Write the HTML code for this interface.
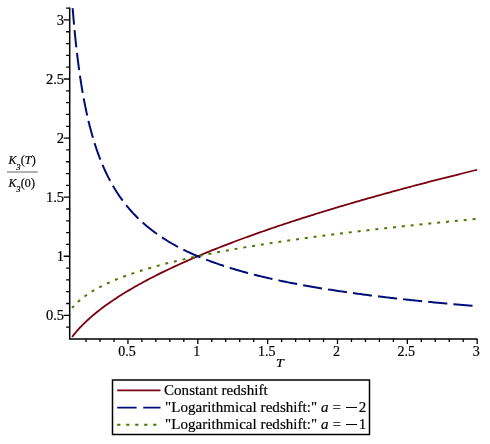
<!DOCTYPE html>
<html><head><meta charset="utf-8"><title>plot</title>
<style>
html,body{margin:0;padding:0;background:#fff;}
body{width:490px;height:444px;position:relative;overflow:hidden;font-family:"Liberation Serif",serif;color:#000;}
#txt{position:absolute;left:0;top:0;width:490px;height:444px;will-change:transform;-webkit-text-stroke:0.2px #000;}
.t{position:absolute;white-space:nowrap;line-height:1;font-size:15px;}
.k{font-size:12px;letter-spacing:0.15px;}
.lg{position:absolute;white-space:nowrap;line-height:1;font-size:15px;left:164px;letter-spacing:0.05px;}
i{font-style:italic;}
sub{font-size:8.5px;margin-left:-0.4px;font-style:italic;vertical-align:baseline;position:relative;top:5.5px;line-height:0;}
.mn{display:inline-block;width:11.5px;height:0;border-top:1px solid #000;vertical-align:0.27em;margin:0 1.5px 0 1px;}
</style></head><body>

<svg width="490" height="444" viewBox="0 0 490 444" style="position:absolute;left:0;top:0">
<path d="M69.70 7.50 V339.00 H477.50" stroke="#000" stroke-width="1.5" fill="none" stroke-linejoin="miter"/>
<path d="M86.04 339.00 v3.00 M100.01 339.00 v3.00 M113.98 339.00 v3.00 M127.95 339.00 v5.00 M141.92 339.00 v3.00 M155.89 339.00 v3.00 M169.86 339.00 v3.00 M183.83 339.00 v3.00 M197.80 339.00 v5.00 M211.77 339.00 v3.00 M225.74 339.00 v3.00 M239.71 339.00 v3.00 M253.68 339.00 v3.00 M267.65 339.00 v5.00 M281.62 339.00 v3.00 M295.59 339.00 v3.00 M309.56 339.00 v3.00 M323.53 339.00 v3.00 M337.50 339.00 v5.00 M351.47 339.00 v3.00 M365.44 339.00 v3.00 M379.41 339.00 v3.00 M393.38 339.00 v3.00 M407.35 339.00 v5.00 M421.32 339.00 v3.00 M435.29 339.00 v3.00 M449.26 339.00 v3.00 M463.23 339.00 v3.00 M477.20 339.00 v5.00 M69.70 327.14 h-3.60 M69.70 315.32 h-6.00 M69.70 303.51 h-3.60 M69.70 291.69 h-3.60 M69.70 279.88 h-3.60 M69.70 268.06 h-3.60 M69.70 256.25 h-6.00 M69.70 244.43 h-3.60 M69.70 232.62 h-3.60 M69.70 220.80 h-3.60 M69.70 208.99 h-3.60 M69.70 197.17 h-6.00 M69.70 185.36 h-3.60 M69.70 173.54 h-3.60 M69.70 161.73 h-3.60 M69.70 149.91 h-3.60 M69.70 138.10 h-6.00 M69.70 126.28 h-3.60 M69.70 114.47 h-3.60 M69.70 102.65 h-3.60 M69.70 90.84 h-3.60 M69.70 79.02 h-6.00 M69.70 67.21 h-3.60 M69.70 55.39 h-3.60 M69.70 43.58 h-3.60 M69.70 31.76 h-3.60 M69.70 19.95 h-6.00 M69.70 8.13 h-3.60" stroke="#000" stroke-width="1.3" fill="none"/>
<path d="M72.07 337.04 L74.10 334.42 L76.12 331.96 L78.15 329.64 L80.17 327.44 L82.20 325.33 L84.22 323.31 L86.25 321.36 L88.28 319.49 L90.30 317.68 L92.33 315.92 L94.35 314.21 L96.38 312.55 L98.40 310.94 L100.43 309.36 L102.45 307.83 L104.48 306.32 L106.51 304.85 L108.53 303.41 L110.56 302.00 L112.58 300.62 L114.61 299.26 L116.63 297.92 L118.66 296.61 L120.69 295.32 L122.71 294.05 L124.74 292.80 L126.76 291.57 L128.79 290.36 L130.81 289.16 L132.84 287.98 L134.87 286.82 L136.89 285.67 L138.92 284.54 L140.94 283.42 L142.97 282.31 L144.99 281.22 L147.02 280.14 L149.04 279.07 L151.07 278.02 L153.10 276.97 L155.12 275.94 L157.15 274.92 L159.17 273.90 L161.20 272.90 L163.22 271.91 L165.25 270.93 L167.28 269.95 L169.30 268.99 L171.33 268.03 L173.35 267.08 L175.38 266.15 L177.40 265.22 L179.43 264.29 L181.46 263.38 L183.48 262.47 L185.51 261.57 L187.53 260.67 L189.56 259.79 L191.58 258.91 L193.61 258.04 L195.63 257.17 L197.66 256.31 L199.69 255.46 L201.71 254.61 L203.74 253.77 L205.76 252.93 L207.79 252.10 L209.81 251.27 L211.84 250.46 L213.87 249.64 L215.89 248.83 L217.92 248.03 L219.94 247.23 L221.97 246.44 L223.99 245.65 L226.02 244.87 L228.05 244.09 L230.07 243.31 L232.10 242.54 L234.12 241.78 L236.15 241.02 L238.17 240.26 L240.20 239.51 L242.22 238.76 L244.25 238.01 L246.28 237.27 L248.30 236.54 L250.33 235.81 L252.35 235.08 L254.38 234.35 L256.40 233.63 L258.43 232.92 L260.46 232.20 L262.48 231.49 L264.51 230.79 L266.53 230.08 L268.56 229.38 L270.58 228.69 L272.61 227.99 L274.63 227.30 L276.66 226.62 L278.69 225.93 L280.71 225.25 L282.74 224.58 L284.76 223.90 L286.79 223.23 L288.81 222.56 L290.84 221.90 L292.87 221.24 L294.89 220.58 L296.92 219.92 L298.94 219.27 L300.97 218.62 L302.99 217.97 L305.02 217.32 L307.05 216.68 L309.07 216.04 L311.10 215.40 L313.12 214.77 L315.15 214.13 L317.17 213.50 L319.20 212.88 L321.22 212.25 L323.25 211.63 L325.28 211.01 L327.30 210.39 L329.33 209.77 L331.35 209.16 L333.38 208.55 L335.40 207.94 L337.43 207.33 L339.46 206.73 L341.48 206.12 L343.51 205.52 L345.53 204.93 L347.56 204.33 L349.58 203.74 L351.61 203.14 L353.64 202.55 L355.66 201.97 L357.69 201.38 L359.71 200.80 L361.74 200.21 L363.76 199.63 L365.79 199.06 L367.81 198.48 L369.84 197.91 L371.87 197.33 L373.89 196.76 L375.92 196.19 L377.94 195.63 L379.97 195.06 L381.99 194.50 L384.02 193.94 L386.05 193.38 L388.07 192.82 L390.10 192.26 L392.12 191.71 L394.15 191.15 L396.17 190.60 L398.20 190.05 L400.23 189.50 L402.25 188.96 L404.28 188.41 L406.30 187.87 L408.33 187.33 L410.35 186.79 L412.38 186.25 L414.40 185.71 L416.43 185.18 L418.46 184.64 L420.48 184.11 L422.51 183.58 L424.53 183.05 L426.56 182.52 L428.58 181.99 L430.61 181.47 L432.64 180.94 L434.66 180.42 L436.69 179.90 L438.71 179.38 L440.74 178.86 L442.76 178.35 L444.79 177.83 L446.82 177.32 L448.84 176.80 L450.87 176.29 L452.89 175.78 L454.92 175.27 L456.94 174.76 L458.97 174.26 L460.99 173.75 L463.02 173.25 L465.05 172.75 L467.07 172.25 L469.10 171.75 L471.12 171.25 L473.15 170.75 L475.17 170.25 L477.20 169.76" stroke="#78000E" stroke-width="1.8" fill="none" stroke-linejoin="round"/>
<path d="M72.64 8.13 L72.77 9.82 L72.84 10.66 L72.97 12.31 L73.04 13.13 L73.18 14.75 L73.31 16.34 L73.38 17.14 L73.51 18.70 L73.65 20.25 L73.72 21.01 L73.85 22.53 L73.92 23.28 L74.04 24.58 M74.55 30.09 L74.66 31.23 L74.79 32.62 L74.93 33.99 L75.06 35.35 L75.20 36.69 L75.33 38.01 L75.54 39.97 L75.67 41.26 L75.81 42.53 L75.94 43.78 L76.08 45.03 L76.21 46.26 L76.34 47.41 M76.97 52.90 L77.15 54.49 L77.29 55.61 L77.49 57.28 L77.63 58.38 L77.83 60.00 L77.96 61.07 L78.17 62.65 L78.30 63.70 L78.50 65.24 L78.64 66.26 L78.84 67.76 L78.98 68.75 L79.17 70.19 M79.95 75.67 L80.12 76.82 L80.32 78.17 L80.59 79.95 L80.80 81.27 L81.00 82.57 L81.20 83.85 L81.47 85.53 L81.67 86.77 L81.87 88.00 L82.08 89.21 L82.35 90.80 L82.55 91.97 L82.71 92.89 M83.69 98.34 L83.90 99.46 L84.17 100.88 L84.44 102.29 L84.71 103.67 L84.98 105.03 L85.25 106.37 L85.58 108.02 L85.85 109.32 L86.12 110.60 L86.39 111.86 L86.66 113.10 L86.93 114.33 L87.18 115.45 M88.44 120.86 L88.75 122.17 L89.09 123.54 L89.43 124.90 L89.83 126.49 L90.17 127.80 L90.51 129.08 L90.84 130.35 L91.18 131.60 L91.52 132.83 L91.92 134.27 L92.26 135.46 L92.60 136.63 L92.93 137.77 M94.55 143.10 L94.96 144.37 L95.43 145.83 L95.83 147.06 L96.30 148.47 L96.78 149.85 L97.25 151.21 L97.65 152.35 L98.12 153.67 L98.60 154.96 L99.07 156.22 L99.47 157.29 L99.94 158.52 L100.39 159.67 M102.51 164.85 L103.11 166.26 L103.72 167.65 L104.26 168.86 L104.87 170.20 L105.47 171.51 L106.08 172.80 L106.62 173.92 L107.23 175.16 L107.83 176.38 L108.44 177.58 L108.98 178.62 L109.59 179.78 L110.14 180.81 M112.89 185.74 L113.63 187.01 L114.37 188.24 L115.18 189.57 L115.93 190.76 L116.67 191.92 L117.41 193.07 L118.22 194.29 L118.96 195.39 L119.70 196.47 L120.44 197.54 L121.25 198.67 L121.99 199.70 L122.72 200.68 M126.22 205.20 L127.12 206.31 L128.06 207.44 L129.01 208.56 L129.95 209.65 L130.89 210.72 L131.84 211.78 L132.78 212.81 L133.73 213.82 L134.67 214.81 L135.61 215.79 L136.56 216.74 L137.50 217.68 L138.45 218.61 M142.70 222.57 L143.77 223.53 L144.92 224.53 L146.00 225.45 L147.14 226.41 L148.22 227.30 L149.37 228.23 L150.45 229.08 L151.59 229.98 L152.67 230.80 L153.82 231.66 L154.90 232.46 L156.04 233.30 L157.10 234.05 M161.97 237.38 L163.12 238.13 L164.41 238.96 L165.62 239.72 L166.90 240.52 L168.11 241.26 L169.39 242.03 L170.61 242.74 L171.89 243.49 L173.10 244.18 L174.38 244.90 L175.60 245.57 L176.88 246.27 L178.04 246.89 M183.35 249.62 L184.63 250.26 L185.91 250.88 L187.26 251.53 L188.61 252.16 L189.89 252.76 L191.24 253.37 L192.59 253.98 L193.94 254.58 L195.22 255.14 L196.57 255.73 L197.92 256.30 L199.20 256.84 L200.52 257.39 M206.11 259.61 L207.42 260.12 L208.84 260.66 L210.19 261.16 L211.60 261.69 L212.95 262.18 L214.37 262.69 L215.72 263.17 L217.13 263.66 L218.48 264.13 L219.90 264.61 L221.25 265.07 L222.66 265.54 L223.97 265.97 M229.73 267.81 L231.09 268.23 L232.51 268.66 L233.92 269.08 L235.34 269.51 L236.75 269.92 L238.17 270.33 L239.59 270.74 L241.00 271.14 L242.42 271.54 L243.83 271.93 L245.25 272.32 L246.67 272.70 L248.03 273.07 M253.89 274.60 L255.30 274.96 L256.71 275.31 L258.20 275.68 L259.61 276.03 L261.03 276.37 L262.44 276.71 L263.93 277.06 L265.34 277.40 L266.76 277.73 L268.18 278.05 L269.66 278.39 L271.08 278.71 L272.46 279.02 M278.39 280.31 L279.77 280.61 L281.26 280.92 L282.67 281.21 L284.16 281.52 L285.57 281.81 L287.06 282.11 L288.47 282.39 L289.95 282.69 L291.37 282.97 L292.85 283.26 L294.27 283.53 L295.75 283.81 L297.13 284.08 M303.11 285.18 L304.59 285.45 L306.00 285.71 L307.49 285.97 L308.90 286.22 L310.39 286.48 L311.80 286.73 L313.28 286.98 L314.70 287.22 L316.18 287.47 L317.60 287.71 L319.08 287.96 L320.50 288.19 L321.97 288.43 M327.98 289.39 L329.40 289.62 L330.82 289.84 L332.30 290.07 L333.78 290.29 L335.20 290.51 L336.68 290.73 L338.17 290.95 L339.65 291.17 L341.06 291.38 L342.55 291.60 L344.03 291.82 L345.45 292.02 L346.92 292.23 M352.95 293.07 L354.42 293.27 L355.90 293.48 L357.31 293.67 L358.80 293.87 L360.28 294.07 L361.76 294.26 L363.18 294.45 L364.66 294.64 L366.15 294.83 L367.63 295.03 L369.05 295.21 L370.53 295.39 L371.95 295.57 M378.00 296.32 L379.43 296.50 L380.91 296.68 L382.40 296.85 L383.81 297.02 L385.30 297.20 L386.78 297.37 L388.26 297.55 L389.75 297.72 L391.23 297.89 L392.65 298.05 L394.13 298.22 L395.61 298.39 L397.04 298.55 M403.09 299.22 L404.51 299.37 L406.00 299.53 L407.48 299.69 L408.90 299.84 L410.38 300.00 L411.86 300.15 L413.35 300.31 L414.83 300.46 L416.31 300.62 L417.73 300.76 L419.21 300.91 L420.70 301.06 L422.17 301.21 M428.23 301.81 L429.66 301.95 L431.15 302.10 L432.63 302.24 L434.05 302.38 L435.53 302.52 L437.01 302.66 L438.50 302.80 L439.98 302.94 L441.46 303.08 L442.88 303.21 L444.36 303.35 L445.85 303.48 L447.33 303.62 M453.40 304.16 L454.81 304.29 L456.30 304.42 L457.78 304.55 L459.26 304.68 L460.75 304.81 L462.23 304.93 L463.65 305.06 L465.13 305.18 L466.61 305.31 L468.10 305.43 L469.58 305.56 L471.06 305.68 L472.51 305.80" stroke="#000E78" stroke-width="2" fill="none" stroke-linejoin="round"/>
<path d="M72.07 307.96 L73.94 305.84 M77.92 301.89 L80.07 300.00 M84.52 296.49 L86.88 294.80 M91.67 291.68 L94.17 290.18 M99.20 287.39 L101.80 286.04 M107.00 283.52 L109.69 282.30 M115.02 280.01 L117.75 278.89 M123.18 276.79 L125.96 275.77 M131.45 273.83 L134.26 272.88 M139.82 271.07 L142.65 270.19 M148.25 268.50 L151.11 267.67 M156.75 266.09 L159.62 265.31 M165.29 263.82 L168.17 263.08 M173.86 261.67 L176.76 260.97 M182.48 259.63 L185.38 258.97 M191.11 257.69 L194.03 257.06 M199.77 255.83 L202.70 255.23 M208.46 254.06 L211.39 253.48 M217.15 252.35 L220.09 251.80 M225.87 250.72 L228.81 250.18 M234.60 249.14 L237.54 248.62 M243.34 247.62 L246.29 247.11 M252.09 246.14 L255.04 245.66 M260.85 244.72 L263.80 244.25 M269.62 243.34 L272.57 242.88 M278.39 242.00 L281.35 241.56 M287.18 240.70 L290.14 240.27 M295.97 239.44 L298.93 239.02 M304.76 238.21 L307.73 237.80 M313.56 237.01 L316.53 236.61 M322.37 235.84 L325.34 235.45 M331.18 234.70 L334.15 234.32 M339.99 233.58 L342.97 233.21 M348.81 232.49 L351.79 232.13 M357.64 231.43 L360.61 231.08 M366.46 230.39 L369.44 230.04 M375.29 229.37 L378.27 229.03 M384.12 228.37 L387.10 228.04 M392.95 227.39 L395.93 227.06 M401.79 226.43 L404.77 226.11 M410.63 225.49 L413.61 225.17 M419.47 224.56 L422.45 224.25 M428.31 223.65 L431.30 223.35 M437.16 222.76 L440.14 222.46 M446.01 221.88 L448.99 221.59 M454.86 221.02 L457.84 220.73 M463.71 220.17 L466.69 219.89 M472.56 219.34 L475.54 219.06" stroke="#4A7800" stroke-width="2" fill="none"/>
<rect x="112.5" y="380" width="257" height="54.5" fill="#fff" stroke="#000" stroke-width="1.5"/>
<path d="M117.2 390.4 H160.5" stroke="#78000E" stroke-width="1.8"/>
<path d="M117.2 407.6 H160.5" stroke="#000E78" stroke-width="1.8" stroke-dasharray="19.4 6.6"/>
<path d="M117.2 424.7 H160.5" stroke="#4A7800" stroke-width="2" stroke-dasharray="3.2 5.8"/>
<path d="M7 172 H37.8" stroke="#999" stroke-width="1.5"/>
</svg>
<div id="txt">
<div class="t" style="font-size:14px;left:118.2px;top:344.5px">0.5</div>
<div class="t" style="font-size:14px;left:193.3px;top:344.5px">1</div>
<div class="t" style="font-size:14px;left:257.9px;top:344.5px">1.5</div>
<div class="t" style="font-size:14px;left:333.0px;top:344.5px">2</div>
<div class="t" style="font-size:14px;left:397.6px;top:344.5px">2.5</div>
<div class="t" style="font-size:14px;left:472.7px;top:344.5px">3</div>
<div class="t" style="font-size:14.5px;left:45.9px;top:308.1px">0.5</div>
<div class="t" style="font-size:14.5px;left:56.8px;top:249.0px">1</div>
<div class="t" style="font-size:14.5px;left:45.9px;top:189.9px">1.5</div>
<div class="t" style="font-size:14.5px;left:56.8px;top:130.8px">2</div>
<div class="t" style="font-size:14.5px;left:45.9px;top:71.8px">2.5</div>
<div class="t" style="font-size:14.5px;left:56.8px;top:12.7px">3</div>
<div class="t" style="left:276.0px;top:356.9px;font-size:12.3px;transform:scaleX(1.13);transform-origin:0 0"><i>T</i></div>
<div class="t k" style="left:8.5px;top:154px"><i>K</i><sub>3</sub>(<i>T</i>)</div>
<div class="t k" style="left:8.5px;top:176.5px"><i>K</i><sub>3</sub>(0)</div>
<div class="lg" style="top:383px">Constant redshift</div>
<div class="lg" style="top:400px;left:165px">"Logarithmical redshift:" <i>a</i> = <span class="mn"></span>2</div>
<div class="lg" style="top:417px;left:165px">"Logarithmical redshift:" <i>a</i> = <span class="mn"></span>1</div>
</div>
</body></html>
